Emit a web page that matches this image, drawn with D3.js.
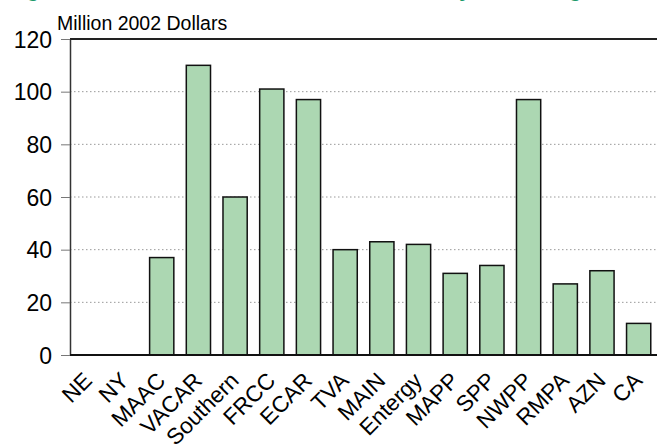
<!DOCTYPE html>
<html>
<head>
<meta charset="utf-8">
<script src="https://cdn.jsdelivr.net/npm/d3@7"></script>
<style>
  body { margin: 0; background: #fff; }
  text { font-family: "Liberation Sans", Arial, sans-serif; fill: #000; }
</style>
</head>
<body>
<script>
var regions = ["NE", "NY", "MAAC", "VACAR", "Southern", "FRCC", "ECAR", "TVA",
  "MAIN", "Entergy", "MAPP", "SPP", "NWPP", "RMPA", "AZN", "CA"];
var values = [0, 0, 37, 110, 60, 101, 97, 40, 43, 42, 31, 34, 97, 27, 32, 12];
var yTicks = [0, 20, 40, 60, 80, 100, 120];

var svg = d3.select('body').append('svg')
  .attr('width', 657)
  .attr('height', 447);

var margin = {top: 39, left: 70, right: 0, bottom: 92};
var width = 657 - margin.left - margin.right,
    height = 447 - margin.top - margin.bottom;

// title sits mostly above the window, only descenders show
svg.append('text')
  .attr('x', 8).attr('y', -3)
  .style('font-weight', 'bold').style('font-size', '21px')
  .style('fill', '#1b9a6a')
  .text('Figure 6. Avoided Transmission Investment by NERC Region');

svg.append('text')
  .attr('x', 57).attr('y', 30)
  .style('font-size', '19.5px')
  .text('Million 2002 Dollars');

var g = svg.append('g').attr('transform', 'translate(' + margin.left + ',' + margin.top + ')');

var x = d3.scaleBand().domain(regions).range([0, width]).paddingInner(0.34).paddingOuter(0.17);
var y = d3.scaleLinear().domain([0, 120]).range([height, 0]);

// dotted grid
g.selectAll('.grid').data(yTicks.filter(d => d > 0 && d < 120))
  .enter().append('line')
  .attr('x1', 0).attr('x2', width)
  .attr('y1', d => y(d)).attr('y2', d => y(d))
  .attr('stroke', '#999').attr('stroke-width', 1)
  .attr('stroke-dasharray', '1.5,2.5');

// top border line
g.append('line')
  .attr('x1', 0).attr('x2', width)
  .attr('y1', y(120)).attr('y2', y(120))
  .attr('stroke', '#222').attr('stroke-width', 2);

var yAxis = g.append('g').call(d3.axisLeft(y).tickValues(yTicks).tickSize(9).tickSizeOuter(0));
yAxis.select('.domain').attr('stroke', '#333').attr('stroke-width', 1.5);
yAxis.selectAll('.tick line').attr('stroke', '#777');
yAxis.selectAll('.tick text').attr('x', -18).attr('dy', '0.36em').style('font-size', '23px');

g.selectAll('.bar').data(values)
  .enter().append('rect')
  .attr('x', (d, i) => x(regions[i]))
  .attr('y', d => y(d))
  .attr('width', x.bandwidth())
  .attr('height', d => height - y(d))
  .attr('fill', '#acd7b2')
  .attr('stroke', '#111').attr('stroke-width', 1.5);

// baseline
g.append('line')
  .attr('x1', 0).attr('x2', width)
  .attr('y1', height).attr('y2', height)
  .attr('stroke', '#111').attr('stroke-width', 2);

var xAxis = g.append('g').attr('transform', 'translate(0,' + height + ')')
  .call(d3.axisBottom(x).tickSize(0));
xAxis.select('.domain').remove();
xAxis.selectAll('.tick text')
  .style('font-size', '22.5px')
  .style('text-anchor', 'end')
  .attr('x', 0).attr('y', 0).attr('dx', 0).attr('dy', 0)
  .attr('transform', 'translate(5,27) rotate(-45)');
</script>
</body>
</html>
